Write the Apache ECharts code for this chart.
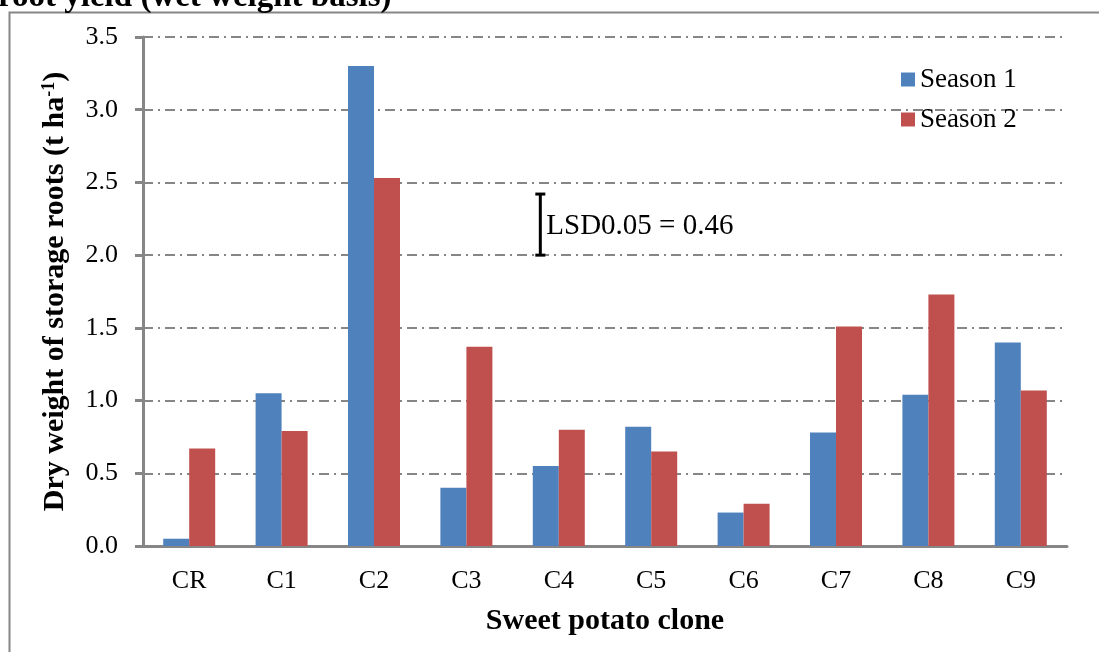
<!DOCTYPE html>
<html><head><meta charset="utf-8">
<script src="https://cdn.jsdelivr.net/npm/echarts@6/dist/echarts.min.js"></script>
<style>html,body{margin:0;padding:0;background:#fff}#c{width:1099px;height:652px}</style>
</head><body><div id="c"></div>
<script>
const categories = ['CR','C1','C2','C3','C4','C5','C6','C7','C8','C9'];
const season1 = [0.05, 1.05, 3.30, 0.40, 0.55, 0.82, 0.23, 0.78, 1.04, 1.40];
const season2 = [0.67, 0.79, 2.53, 1.37, 0.80, 0.65, 0.29, 1.51, 1.73, 1.07];
const yTicks = [0, 0.5, 1.0, 1.5, 2.0, 2.5, 3.0, 3.5];
const lsd = {cat: 3, offset: 0.8, low: 2.0, high: 2.42, label: 'LSD0.05 = 0.46'};

const serif = '"Liberation Serif", "Times New Roman", serif';
const gray = '#868686';
const chart = echarts.init(document.getElementById('c'));
chart.setOption({
  animation: false,
  textStyle: {fontFamily: serif},
  graphic: [
    {type: 'rect', shape: {x: 9.5, y: 12.5, width: 1200, height: 800}, style: {fill: null, stroke: gray, lineWidth: 2}, silent: true},
    {type: 'text', x: -2, y: 14, style: {text: 'root yield (wet weight basis)', font: 'bold 33px ' + serif, fill: '#000', verticalAlign: 'bottom'}}
  ],
  grid: {left: 143, right: 32, top: 37, bottom: 106},
  legend: {
    orient: 'vertical', left: 896, top: 61, itemWidth: 14, itemHeight: 14, itemGap: 13,
    icon: 'rect',
    textStyle: {fontFamily: serif, fontSize: 27, color: '#000'},
    data: ['Season 1', 'Season 2']
  },
  xAxis: {
    type: 'category', data: categories,
    axisLine: {lineStyle: {color: gray, width: 3}},
    axisTick: {show: false},
    axisLabel: {fontFamily: serif, fontSize: 26, color: '#000', margin: 22},
    name: 'Sweet potato clone', nameLocation: 'middle', nameGap: 60,
    nameTextStyle: {fontFamily: serif, fontSize: 30, fontWeight: 'bold', color: '#000', verticalAlign: 'top'}
  },
  yAxis: {
    type: 'value', min: 0, max: 3.5, interval: 0.5,
    axisLine: {show: true, lineStyle: {color: gray, width: 3}},
    axisTick: {show: true, length: 8, lineStyle: {color: gray, width: 3}},
    axisLabel: {fontFamily: serif, fontSize: 26, color: '#000', margin: 25,
      formatter: v => yTicks.includes(+v.toFixed(1)) ? v.toFixed(1) : ''},
    splitLine: {show: true, lineStyle: {color: gray, width: 2, type: [10, 5, 2, 5]}},
    name: '{a|Dry weight of storage roots (t ha}{s|-1}{a|)}', nameLocation: 'middle', nameGap: 73, nameRotate: 90,
    nameTextStyle: {
      rich: {
        a: {fontFamily: serif, fontSize: 30, fontWeight: 'bold', color: '#000'},
        s: {fontFamily: serif, fontSize: 18, fontWeight: 'bold', color: '#000', verticalAlign: 'top', padding: [0, 0, 12, 0]}
      }
    }
  },
  series: [
    {name: 'Season 1', type: 'bar', data: season1, barWidth: 26, barGap: '0%', itemStyle: {color: '#4F81BD'}},
    {name: 'Season 2', type: 'bar', data: season2, barWidth: 26, barGap: '0%', itemStyle: {color: '#C0504D'}},
    {
      type: 'custom', data: [[lsd.cat, lsd.low, lsd.high]], silent: true, z: 10,
      renderItem: function (params, api) {
        const bw = api.size([1, 0])[0];
        const p0 = api.coord([api.value(0), api.value(1)]);
        const p1 = api.coord([api.value(0), api.value(2)]);
        const x = p0[0] + bw * lsd.offset;
        const cap = 5;
        return {type: 'group', children: [
          {type: 'line', shape: {x1: x, y1: p0[1], x2: x, y2: p1[1]}, style: {stroke: '#000', lineWidth: 3}},
          {type: 'line', shape: {x1: x - cap, y1: p0[1], x2: x + cap, y2: p0[1]}, style: {stroke: '#000', lineWidth: 3}},
          {type: 'line', shape: {x1: x - cap, y1: p1[1], x2: x + cap, y2: p1[1]}, style: {stroke: '#000', lineWidth: 3}},
          {type: 'text', x: x + 6, y: (p0[1] + p1[1]) / 2 + 2, style: {text: lsd.label, font: '29px ' + serif, fill: '#000', verticalAlign: 'middle'}}
        ]};
      }
    }
  ]
});
</script></body></html>
